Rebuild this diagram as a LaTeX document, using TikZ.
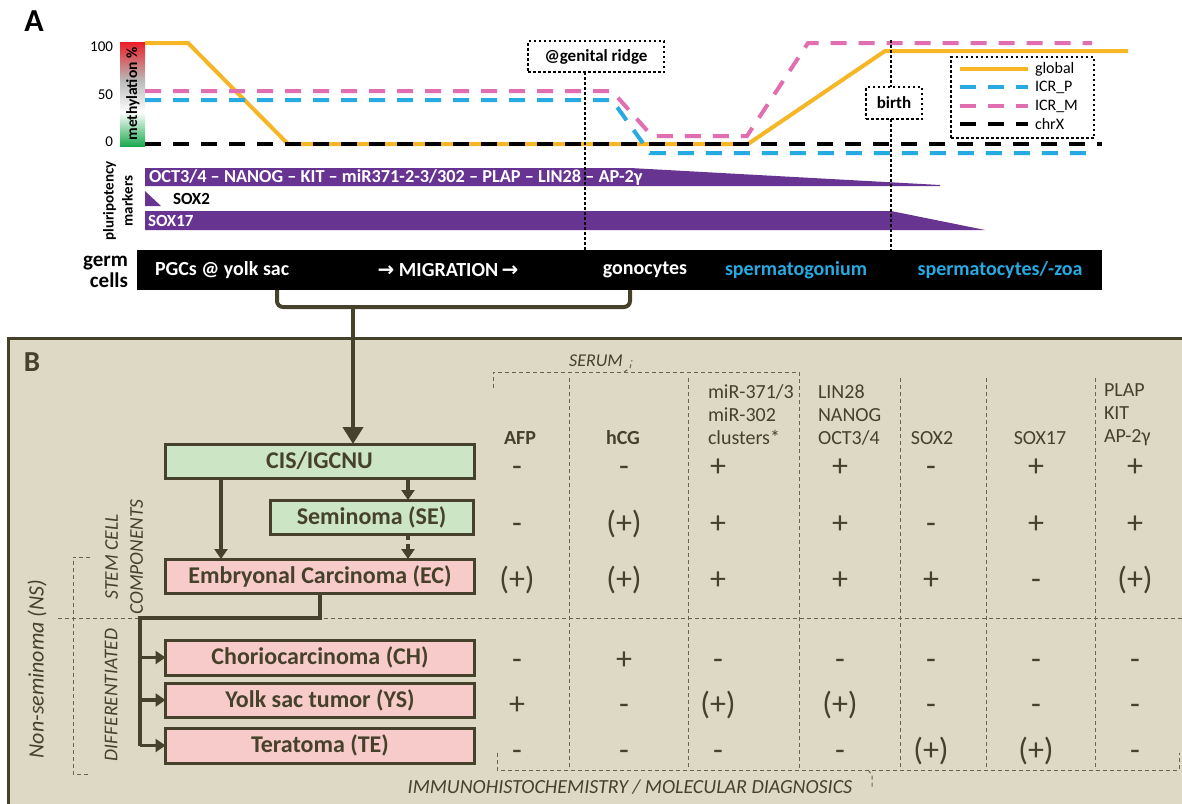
\documentclass[tikz,border=0pt]{standalone}
\usepackage{fontspec}
\setmainfont{Carlito}
\newfontfamily\arrowfont{DejaVu Sans}
\usetikzlibrary{arrows.meta,positioning}
\definecolor{olivedark}{RGB}{70,65,42}
\definecolor{panelbeige}{RGB}{221,217,196}
\definecolor{gridgray}{RGB}{105,100,80}
\definecolor{cellgreen}{RGB}{204,229,196}
\definecolor{cellpink}{RGB}{248,203,203}
\definecolor{markerpurple}{RGB}{104,52,146}
\definecolor{globalorange}{RGB}{246,182,38}
\definecolor{icrblue}{RGB}{38,170,225}
\definecolor{icrpink}{RGB}{224,110,176}
\definecolor{methred}{RGB}{235,30,40}
\definecolor{methgreen}{RGB}{30,170,80}
\newcommand{\fsize}[1]{\fontsize{#1}{#1}\selectfont}

\begin{document}
\begin{tikzpicture}[x=1pt,y=-1pt,
    every node/.style={inner sep=0pt,outer sep=0pt},
    methline/.style={line width=4pt},
    dashline/.style={line width=4pt,dash pattern=on 16pt off 12pt},
    dotframe/.style={draw=black,line width=2.5pt,dash pattern=on 2.5pt off 2.5pt},
    dotline/.style={black,line width=2.5pt,dash pattern=on 2.5pt off 2.5pt},
    bartext/.style={font=\fsize{17}\bfseries,text=white,anchor=west},
    tumor/.style={draw=olivedark,line width=3pt,minimum width=309pt,minimum height=34pt,font=\fsize{24}\bfseries,text=olivedark},
    flow/.style={olivedark,line width=3.5pt,-{Triangle[width=13pt,length=10pt]}},
    trunk/.style={olivedark,line width=4pt},
    cellgrid/.style={gridgray,line width=1pt,dash pattern=on 4pt off 3pt},
    colhead/.style={font=\fontsize{20}{23}\selectfont,text=olivedark,align=left,anchor=west},
    cellvalue/.style={font=\fsize{32},text=olivedark,anchor=base},
    sidelabel/.style={text=olivedark,rotate=90,align=center}
]
    \clip (0,0) rectangle (1182,803);
    \fill[white] (0,0) rectangle (1182,803);

    \node[font=\fsize{32}\bfseries] (panelA) at (34,21) {A};
    \shade[top color=methred,bottom color=gray!55] (120,42) rectangle (145,80);
    \shade[top color=gray!55,bottom color=white] (120,80) rectangle (145,112);
    \shade[top color=white,bottom color=methgreen] (120,112) rectangle (145,146);
    \node[font=\fsize{15.5}\bfseries,rotate=90] (methlabel) at (133,94) {methylation \%};
    \node[font=\fsize{15},anchor=east] (tick100) at (113,47) {100};
    \node[font=\fsize{15},anchor=east] (tick50) at (113,95) {50};
    \node[font=\fsize{15},anchor=east] (tick0) at (113,142) {0};

    \draw[globalorange,methline] (145,43) -- (188,43) -- (288,144) -- (748,144) -- (885,51) -- (1128,51);
    \draw[icrpink,dashline] (145,91) -- (612,91) -- (652,136) -- (747,136) -- (808,43) -- (1092,43);
    \draw[icrblue,dashline] (145,100) -- (612,100) -- (650,153) -- (1090,153);
    \draw[black,dashline] (145,144) -- (1102,144);

    \node[dotframe,minimum width=143pt,minimum height=81pt,anchor=north west] (legend) at (951,57) {};
    \draw[globalorange,methline] (960,69) -- (1028,69);
    \draw[icrblue,dashline] (960,87) -- (1028,87);
    \draw[icrpink,dashline] (960,106) -- (1028,106);
    \draw[black,dashline] (960,124) -- (1028,124);
    \node[font=\fsize{16},anchor=west] (leg-global) at (1035,69) {global};
    \node[font=\fsize{16},anchor=west] (leg-icrp) at (1035,87) {ICR\_P};
    \node[font=\fsize{16},anchor=west] (leg-icrm) at (1035,106) {ICR\_M};
    \node[font=\fsize{16},anchor=west] (leg-chrx) at (1035,124) {chrX};

    \fill[markerpurple] (145,168) -- (630,168) -- (940,185) -- (940,186) -- (145,186) -- cycle;
    \node[bartext,font=\fsize{18.3}\bfseries] (pluri-main) at (149,177.5) {OCT3/4 – NANOG – KIT – miR371-2-3/302 – PLAP – LIN28 – AP-2γ};
    \fill[markerpurple] (145,191) -- (161,206) -- (145,206) -- cycle;
    \node[bartext,text=black] (sox2) at (173,198.5) {SOX2};
    \fill[markerpurple] (145,211) -- (891,211) -- (985,230) -- (145,230) -- cycle;
    \node[bartext] (sox17) at (148,220.5) {SOX17};
    \node[font=\fontsize{15}{19}\selectfont\bfseries,rotate=90,align=center] (pluri-label) at (118,201) {pluripotency\\markers};

    \node[fill=black,minimum width=965pt,minimum height=40pt,anchor=north west] (germbar) at (137,250) {};
    \node[font=\fontsize{21}{21}\selectfont\bfseries,align=right,anchor=east] (germlabel) at (128,272) {germ\\cells};
    \node[bartext,font=\fsize{20}\bfseries] (pgc) at (155,270) {PGCs @ yolk sac};
    \node[font=\fsize{20}\bfseries,text=white] (migration) at (448,270) {{\arrowfont\bfseries →} MIGRATION\,{\arrowfont\bfseries →}};
    \node[font=\fsize{20}\bfseries,text=white] (gonocytes) at (645,270) {gonocytes};
    \node[font=\fsize{20}\bfseries,text=icrblue] (spermatogonium) at (796,270) {spermatogonium};
    \node[font=\fsize{20}\bfseries,text=icrblue] (spermatocytes) at (1000,270) {spermatocytes/-zoa};

    \node[dotframe,fill=white,minimum width=136pt,minimum height=31pt,font=\fsize{17}\bfseries] (ridge) at (596,56.5) {@genital ridge};
    \coordinate (ridgefoot) at (585,250);
    \draw[dotline] (ridge.south -| ridgefoot) -- (ridgefoot);
    \node[dotframe,fill=white,minimum width=56pt,minimum height=32pt,font=\fsize{17}\bfseries] (birth) at (894,103) {birth};
    \coordinate (birthtop) at (891,40);
    \coordinate (birthfoot) at (891,250);
    \draw[dotline] (birthtop) -- (birth.north -| birthtop) (birth.south -| birthtop) -- (birthfoot);

    \coordinate (pgcfoot) at (277,290);
    \coordinate (gonofoot) at (630,290);
    \coordinate (bracemid) at (353,307);
    \draw[trunk,rounded corners=6pt] (pgcfoot) -- ++(0,17) -| (gonofoot);

    \draw[olivedark,line width=3pt,fill=panelbeige] (8,338) rectangle (1200,820);
    \node[font=\fsize{29}\bfseries,text=olivedark] (panelB) at (32,362) {B};

    \foreach \gx in {569.5,688,900,986,1095.5}
        \draw[cellgrid] (\gx,378) -- (\gx,770);
    \draw[cellgrid] (493,388) -- (493,372) -- (799,372) -- (799,770);
    \draw[cellgrid] (624,372) -- (630,368) -- (632,360);
    \draw[cellgrid] (497,753) -- (497,770) -- (1179,770) -- (1179,753);
    \draw[cellgrid] (868,770) -- (872,775) -- (872,787);
    \draw[cellgrid] (58,618) -- (1190,618);
    \draw[cellgrid] (90,557) -- (73,557) -- (73,774) -- (90,774);

    \node[font=\fsize{18}\itshape,text=olivedark] (serum) at (596,361) {SERUM};
    \node[font=\fsize{20}\itshape,text=olivedark] (ihc) at (630,787) {IMMUNOHISTOCHEMISTRY / MOLECULAR DIAGNOSICS};
    \node[sidelabel,font=\fsize{22}\itshape] (nonsem) at (37,669) {Non-seminoma (NS)};
    \node[sidelabel,font=\fontsize{19.5}{25}\selectfont\itshape] (stemcell) at (124,557) {STEM CELL\\COMPONENTS};
    \node[sidelabel,font=\fsize{19.5}\itshape] (differentiated) at (111,695) {DIFFERENTIATED};

    \node[tumor,fill=cellgreen] (cis) at (319.5,461) {CIS/IGCNU};
    \node[tumor,fill=cellgreen,minimum width=203pt] (se) at (371.5,517) {Seminoma (SE)};
    \node[tumor,fill=cellpink] (ec) at (320,576) {Embryonal Carcinoma (EC)};
    \node[tumor,fill=cellpink,minimum height=35pt] (ch) at (320,657.5) {Choriocarcinoma (CH)};
    \node[tumor,fill=cellpink] (ys) at (320,700) {Yolk sac tumor (YS)};
    \node[tumor,fill=cellpink,minimum height=35pt] (te) at (320,745.5) {Teratoma (TE)};

    \draw[trunk,-{Triangle[width=20pt,length=17pt]}] (bracemid) -- (cis.north -| bracemid);
    \coordinate (cisdrop) at (221,0);
    \coordinate (sedrop) at (408,0);
    \draw[flow] (cis.south -| cisdrop) -- (ec.north -| cisdrop);
    \draw[flow] (cis.south -| sedrop) -- (se.north -| sedrop);
    \draw[flow,dash pattern=on 6pt off 4pt] (se.south -| sedrop) -- (ec.north -| sedrop);
    \coordinate (branch) at (140,618);
    \draw[trunk] (ec.south) |- (branch) -- (branch |- te.west);
    \draw[flow] (branch |- ch.west) -- (ch.west);
    \draw[flow] (branch |- ys.west) -- (ys.west);
    \draw[flow] (branch |- te.west) -- (te.west);

    \node[colhead,font=\fsize{20}\bfseries,anchor=center] (h-afp) at (520,438) {AFP};
    \node[colhead,font=\fsize{20}\bfseries,anchor=center] (h-hcg) at (623,438) {hCG};
    \node[colhead] (h-mir) at (708,415) {miR-371/3\\miR-302\\clusters*};
    \node[colhead] (h-lin) at (818,415) {LIN28\\NANOG\\OCT3/4};
    \node[colhead,anchor=center] (h-sox2) at (932,438) {SOX2};
    \node[colhead,anchor=center] (h-sox17) at (1040,438) {SOX17};
    \node[colhead] (h-plap) at (1104,415) {PLAP\\KIT\\AP-2γ};

    \foreach \vx/\v [count=\ci] in {517/-,624/-,718/+,840/+,931/-,1036/+,1135/+}
        \node[cellvalue] (cis-v\ci) at (\vx,476) {\v};
    \foreach \vx/\v [count=\ci] in {517/-,624/(+),718/+,840/+,931/-,1036/+,1135/+}
        \node[cellvalue] (se-v\ci) at (\vx,533) {\v};
    \foreach \vx/\v [count=\ci] in {517/(+),624/(+),718/+,840/+,931/+,1036/-,1135/(+)}
        \node[cellvalue] (ec-v\ci) at (\vx,589) {\v};
    \foreach \vx/\v [count=\ci] in {517/-,624/+,718/-,840/-,931/-,1036/-,1135/-}
        \node[cellvalue] (ch-v\ci) at (\vx,669) {\v};
    \foreach \vx/\v [count=\ci] in {517/+,624/-,718/(+),840/(+),931/-,1036/-,1135/-}
        \node[cellvalue] (ys-v\ci) at (\vx,714) {\v};
    \foreach \vx/\v [count=\ci] in {517/-,624/-,718/-,840/-,931/(+),1036/(+),1135/-}
        \node[cellvalue] (te-v\ci) at (\vx,760) {\v};
\end{tikzpicture}
\end{document}
